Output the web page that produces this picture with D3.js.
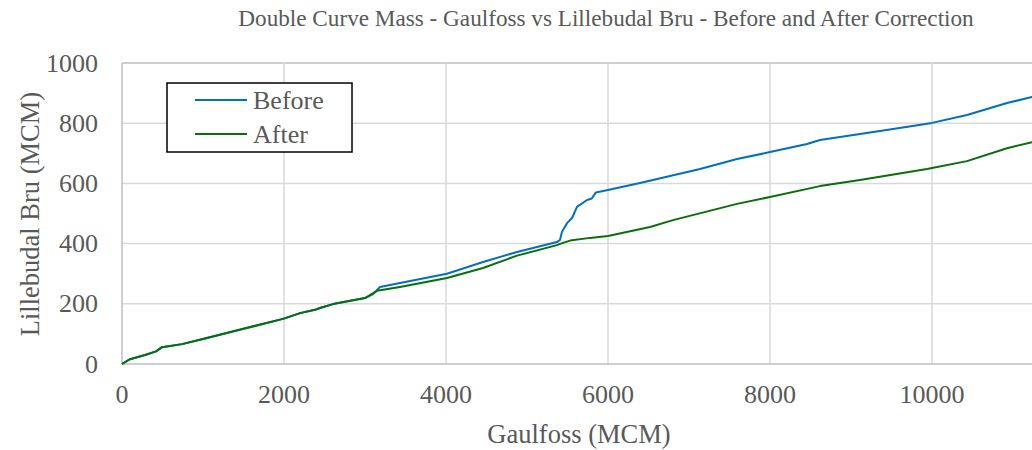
<!DOCTYPE html>
<html>
<head>
<meta charset="utf-8">
<script src="https://cdn.jsdelivr.net/npm/d3@7"></script>
<style>
  body { margin: 0; background: #fff; }
</style>
</head>
<body>
<div id="chart"></div>
<script>
// Gaulfoss cumulative (MCM) and Lillebudal Bru cumulative (MCM)
const beforeX = [0, 99, 284, 420, 494, 741, 1000, 1500, 1988, 2198, 2383, 2444, 2605, 3000, 3100, 3185, 3432, 4012, 4457, 4877, 5370, 5407, 5432, 5494, 5556, 5617, 5741, 5800, 5850, 6000, 6395, 7136, 7593, 8000, 8457, 8617, 9111, 9358, 10000, 10432, 10926, 11235, 11400];
const beforeY = [0, 16, 30, 42, 56, 66, 83, 117, 150, 169, 180, 186, 199, 219, 232, 256, 269, 300, 339, 372, 405, 412, 439, 468, 485, 522, 545, 550, 570, 578, 601, 648, 681, 704, 731, 744, 764, 774, 801, 827, 867, 887, 897];

const afterX = [0, 99, 284, 420, 494, 741, 1000, 1500, 1988, 2198, 2383, 2444, 2605, 3000, 3148, 3432, 4012, 4457, 4877, 5370, 5407, 5531, 5778, 6000, 6519, 6802, 7593, 8000, 8617, 9111, 9938, 10432, 10926, 11235, 11400];
const afterY = [0, 16, 30, 42, 56, 66, 83, 117, 150, 169, 180, 186, 199, 219, 243, 256, 286, 319, 360, 395, 399, 410, 419, 425, 455, 478, 532, 555, 591, 611, 648, 674, 717, 737, 745];

const xTicks = [0, 2000, 4000, 6000, 8000, 10000];
const yTicks = [0, 200, 400, 600, 800, 1000];
const seriesNames = ['Before', 'After'];
const seriesColors = ['#0070C0', '#0B6E0B'];

const width = 1032, height = 450;
const margin = { left: 122, top: 63 };
const plotW = 972, plotH = 301;

const svg = d3.select('#chart').append('svg')
    .attr('width', width)
    .attr('height', height)
    .attr('font-family', '"Liberation Serif", "Times New Roman", serif');

// text drawn at double size and scaled down, so the serif face is kept at every size
function addText(parent, x, y, size, str, anchor, angle) {
    return parent.append('text')
        .attr('transform', `translate(${x},${y}) rotate(${angle || 0}) scale(0.5)`)
        .attr('font-size', size * 2)
        .attr('text-anchor', anchor || 'start')
        .attr('fill', '#595959')
        .text(str);
}

const x = d3.scaleLinear().domain([0, 12000]).range([margin.left, margin.left + plotW]);
const y = d3.scaleLinear().domain([0, 1000]).range([margin.top + plotH, margin.top]);

// gridlines
svg.append('g').selectAll('line')
    .data(yTicks.filter(d => d > 0))
    .enter().append('line')
    .attr('x1', x(0)).attr('x2', x(12000))
    .attr('y1', d => y(d)).attr('y2', d => y(d))
    .attr('stroke', d => d === 1000 ? '#bfbfbf' : '#d9d9d9')
    .attr('stroke-width', 1.5);

svg.append('g').selectAll('line')
    .data(xTicks.concat([12000]).filter(d => d > 0))
    .enter().append('line')
    .attr('x1', d => x(d)).attr('x2', d => x(d))
    .attr('y1', y(0)).attr('y2', y(1000))
    .attr('stroke', '#d9d9d9')
    .attr('stroke-width', 1.5);

// axes lines
svg.append('line')
    .attr('x1', x(0)).attr('x2', x(0))
    .attr('y1', y(0)).attr('y2', y(1000))
    .attr('stroke', '#bfbfbf').attr('stroke-width', 1.5);
svg.append('line')
    .attr('x1', x(0)).attr('x2', x(12000))
    .attr('y1', y(0)).attr('y2', y(0))
    .attr('stroke', '#bfbfbf').attr('stroke-width', 1.5);

// tick labels
const yLabels = svg.append('g');
yTicks.forEach(d => addText(yLabels, x(0) - 24, y(d) + 8.5, 26, d, 'end'));

const xLabels = svg.append('g');
xTicks.forEach(d => addText(xLabels, x(d), y(0) + 39, 26, d, 'middle'));

// lines
const line = d3.line().x(d => x(d[0])).y(d => y(d[1]));
const series = [d3.zip(beforeX, beforeY), d3.zip(afterX, afterY)];

svg.append('g').selectAll('path')
    .data(series)
    .enter().append('path')
    .attr('d', line)
    .attr('fill', 'none')
    .attr('stroke', (d, i) => seriesColors[i])
    .attr('stroke-width', 2)
    .attr('stroke-linejoin', 'round');

// titles
addText(svg, 606, 26, 23.2, 'Double Curve Mass - Gaulfoss vs Lillebudal Bru - Before and After Correction', 'middle');
addText(svg, 579, 443, 26.5, 'Gaulfoss (MCM)', 'middle');
addText(svg, 39, 214, 26.5, 'Lillebudal Bru (MCM)', 'middle', -90);

// legend
const legend = svg.append('g');
legend.append('rect')
    .attr('x', 167).attr('y', 83)
    .attr('width', 185).attr('height', 69)
    .attr('fill', '#fff')
    .attr('stroke', '#000')
    .attr('stroke-width', 1.5);

seriesNames.forEach((name, i) => {
    const ly = 100 + i * 34;
    legend.append('line')
        .attr('x1', 195).attr('x2', 247)
        .attr('y1', ly).attr('y2', ly)
        .attr('stroke', seriesColors[i])
        .attr('stroke-width', 2);
    addText(legend, 253, ly + 8.5, 26, name);
});
</script>
</body>
</html>
